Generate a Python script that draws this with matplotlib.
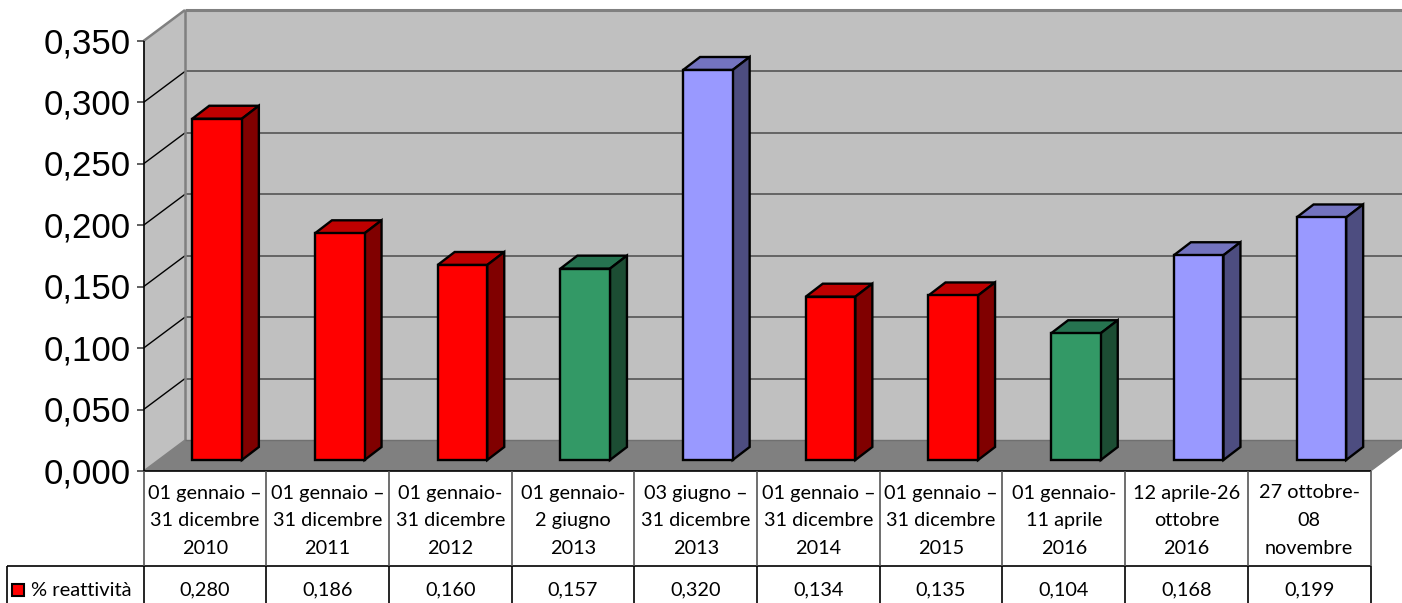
import matplotlib
matplotlib.use('Agg')
import matplotlib.pyplot as plt
from matplotlib.patches import Polygon

periods = [
    ['01 gennaio –', '31 dicembre', '2010'],
    ['01 gennaio –', '31 dicembre', '2011'],
    ['01 gennaio-', '31 dicembre', '2012'],
    ['01 gennaio-', '2 giugno', '2013'],
    ['03 giugno –', '31 dicembre', '2013'],
    ['01 gennaio –', '31 dicembre', '2014'],
    ['01 gennaio –', '31 dicembre', '2015'],
    ['01 gennaio-', '11 aprile', '2016'],
    ['12 aprile-26', 'ottobre', '2016'],
    ['27 ottobre-', '08', 'novembre'],
]
reattivita = [0.280, 0.186, 0.160, 0.157, 0.320, 0.134, 0.135, 0.104, 0.168, 0.199]
gruppi = ['r', 'r', 'r', 'g', 'b', 'r', 'r', 'g', 'b', 'b']
y_ticks = [0.0, 0.05, 0.10, 0.15, 0.20, 0.25, 0.30, 0.35]

# front, top, side
colori = {
    'r': ('#ff0000', '#bf0000', '#800000'),
    'g': ('#339966', '#267350', '#1c4d33'),
    'b': ('#9999ff', '#7373bf', '#4d4d80'),
}

W, H = 1402, 603
left, right, base, top = 143.5, 1370.5, 471, 41

fig = plt.figure(figsize=(W / 100, H / 100), dpi=100, facecolor='white')
ax = fig.add_axes([left / W, 1 - base / H, (right - left) / W, (base - top) / H])
ax.set_xlim(0, len(reattivita))
ax.set_ylim(0, 0.35)
ax.axis('off')

# pixel sizes expressed in data units
px = len(reattivita) / (right - left)
py = 0.35 / (base - top)
depth_x, depth_y = 41.5 * px, 31 * py


def poly(points, face, edge='none', lw=0, z=1):
    ax.add_patch(Polygon(points, closed=True, facecolor=face, edgecolor=edge,
                         linewidth=lw, joinstyle='miter', clip_on=False, zorder=z))


def line(xs, ys, color, lw, z=2):
    ax.plot(xs, ys, color=color, lw=lw, clip_on=False, solid_capstyle='butt', zorder=z)


n = len(reattivita)
ymax = 0.35

# walls and floor
poly([(depth_x, depth_y), (n + depth_x, depth_y), (n + depth_x, ymax + depth_y), (depth_x, ymax + depth_y)], '#c0c0c0')
poly([(0, 0), (depth_x, depth_y), (depth_x, ymax + depth_y), (0, ymax)], '#c0c0c0')
poly([(0, 0), (n, 0), (n + depth_x, depth_y), (depth_x, depth_y)], '#808080')

# gridlines
for t in y_ticks[1:-1]:
    line([depth_x, n + depth_x], [t + depth_y, t + depth_y], '#555555', 1.2)
    line([0, depth_x], [t, t + depth_y], 'black', 1.0)
line([depth_x, n + depth_x], [ymax + depth_y, ymax + depth_y], '#808080', 2.2)
line([depth_x, depth_x], [depth_y, ymax + depth_y], '#808080', 1.8)
line([0, depth_x], [ymax, ymax + depth_y], '#808080', 1.8)
line([n, n + depth_x], [0, depth_y], '#808080', 1.0)
line([depth_x, n + depth_x], [depth_y, depth_y], '#707070', 1.0)
line([0, depth_x], [0, depth_y], '#808080', 1.0)

# left axis with ticks
line([0, 0], [0, ymax], 'black', 1.2, z=3)
for t in y_ticks:
    line([-7 * px, 0], [t, t], '#444444', 1.2)
    ax.text(-13 * px, t - 2.5 * py, f'{t:.3f}'.replace('.', ','), ha='right', va='center',
            family='Liberation Sans', fontsize=25, color='black')

# 3D bars, set slightly back from the front plane so they read a little shorter
bar_w = 49.6 * px
bar_scale = 0.992
shift_x, shift_y = 12.2 * px, 11 * py
side_x, side_y = 17 * px, 13 * py
for i, (v, g) in enumerate(zip(reattivita, gruppi)):
    front, roof, side = colori[g]
    x0 = i + 0.5 + shift_x - bar_w / 2
    x1 = x0 + bar_w
    y0 = shift_y
    y1 = shift_y + v * bar_scale
    poly([(x0, y1), (x1, y1), (x1 + side_x, y1 + side_y), (x0 + side_x, y1 + side_y)], roof, 'black', 1.7, z=4)
    poly([(x1, y0), (x1 + side_x, y0 + side_y), (x1 + side_x, y1 + side_y), (x1, y1)], side, 'black', 1.7, z=4)
    poly([(x0, y0), (x1, y0), (x1, y1), (x0, y1)], front, 'black', 1.7, z=5)

# data table under the chart
row_y = -(566 - base) * py
bottom_y = -(603 - base) * py
label_x = (7 - left) * px
line([0, n], [0, 0], 'black', 1.2, z=3)
line([label_x, n], [row_y, row_y], 'black', 1.2, z=3)
line([label_x, label_x], [row_y, bottom_y], 'black', 1.2, z=3)
for i in range(n + 1):
    line([i, i], [0, row_y], '#555555', 1.2, z=3)
    line([i, i], [row_y, bottom_y], 'black', 1.2, z=3)

table_font = dict(family='Lato', fontsize=14.3, color='black', ha='center', va='center')
for i, (righe, v) in enumerate(zip(periods, reattivita)):
    for j, riga in enumerate(righe):
        ax.text(i + 0.5, -(493 + j * 27.5 - base) * py, riga, **table_font)
    ax.text(i + 0.5, -(590 - base) * py, f'{v:.3f}'.replace('.', ','), **table_font)

# legend cell
poly([((12 - left) * px, -(584 - base) * py), ((24 - left) * px, -(584 - base) * py),
      ((24 - left) * px, -(596 - base) * py), ((12 - left) * px, -(596 - base) * py)],
     '#ff0000', 'black', 1.5, z=4)
ax.text((31 - left) * px, -(590 - base) * py, '% reattività', family='Lato', fontsize=14.5,
        color='black', ha='left', va='center')

fig.savefig('out.png', dpi=100, facecolor='white')
